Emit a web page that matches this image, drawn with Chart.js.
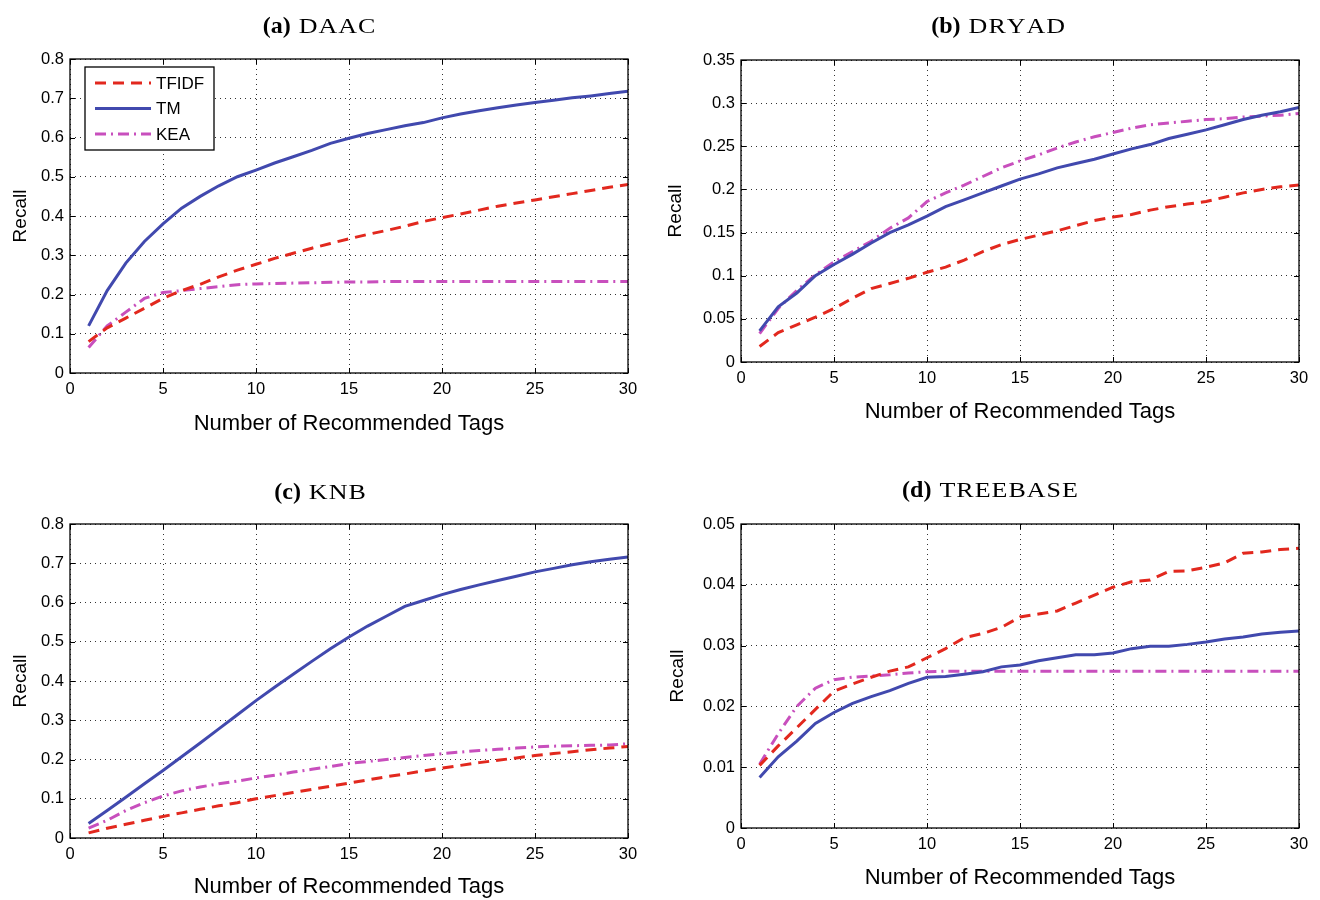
<!DOCTYPE html>
<html>
<head>
<meta charset="utf-8">
<title>Recall vs number of recommended tags</title>
<script src="https://cdn.jsdelivr.net/npm/chart.js@4.4.1/dist/chart.umd.min.js"></script>
<style>
  html, body { margin: 0; padding: 0; background: #fff; }
  #wrap { position: relative; width: 1320px; height: 900px; overflow: hidden; }
  #wrap canvas { position: absolute; }
</style>
</head>
<body>
<div id="wrap">
  <canvas id="chartA" width="660" height="455" style="left:0;top:0"></canvas>
  <canvas id="chartB" width="660" height="455" style="left:660px;top:0"></canvas>
  <canvas id="chartC" width="660" height="445" style="left:0;top:455px"></canvas>
  <canvas id="chartD" width="660" height="445" style="left:660px;top:455px"></canvas>
</div>
<script>
// x values: number of recommended tags
const tagCounts = [1, 2, 3, 4, 5, 6, 7, 8, 9, 10, 11, 12, 13, 14, 15,
                   16, 17, 18, 19, 20, 21, 22, 23, 24, 25, 26, 27, 28, 29, 30];
const methodNames = ['TFIDF', 'TM', 'KEA'];

// (a) DAAC
const daacTfidf = [0.080, 0.115, 0.140, 0.165, 0.190, 0.210, 0.226, 0.245, 0.262, 0.277, 0.292, 0.305, 0.318, 0.330, 0.342,
                   0.353, 0.363, 0.374, 0.386, 0.396, 0.405, 0.415, 0.425, 0.433, 0.441, 0.449, 0.457, 0.465, 0.473, 0.480];
const daacTm    = [0.120, 0.210, 0.280, 0.335, 0.380, 0.420, 0.450, 0.477, 0.500, 0.517, 0.535, 0.551, 0.567, 0.585, 0.598,
                   0.610, 0.620, 0.630, 0.638, 0.650, 0.660, 0.668, 0.676, 0.683, 0.689, 0.695, 0.701, 0.706, 0.712, 0.718];
const daacKea   = [0.065, 0.120, 0.155, 0.190, 0.205, 0.210, 0.215, 0.220, 0.225, 0.227, 0.228, 0.229, 0.230, 0.231, 0.232,
                   0.232, 0.233, 0.233, 0.233, 0.233, 0.233, 0.233, 0.233, 0.233, 0.233, 0.233, 0.233, 0.233, 0.233, 0.233];

// (b) DRYAD
const dryadTfidf = [0.018, 0.034, 0.043, 0.052, 0.062, 0.074, 0.085, 0.091, 0.097, 0.104, 0.110, 0.118, 0.128, 0.136, 0.142,
                    0.147, 0.152, 0.158, 0.164, 0.168, 0.171, 0.176, 0.180, 0.183, 0.186, 0.191, 0.196, 0.200, 0.203, 0.205];
const dryadTm    = [0.036, 0.064, 0.080, 0.100, 0.113, 0.125, 0.138, 0.150, 0.159, 0.169, 0.180, 0.188, 0.196, 0.204, 0.212,
                    0.218, 0.225, 0.230, 0.235, 0.241, 0.247, 0.252, 0.259, 0.264, 0.269, 0.275, 0.281, 0.286, 0.290, 0.295];
const dryadKea   = [0.033, 0.062, 0.083, 0.101, 0.116, 0.128, 0.140, 0.155, 0.167, 0.186, 0.196, 0.205, 0.215, 0.225, 0.233,
                    0.240, 0.248, 0.255, 0.261, 0.266, 0.271, 0.275, 0.277, 0.279, 0.281, 0.282, 0.284, 0.285, 0.286, 0.288];

// (c) KNB
const knbTfidf = [0.013, 0.025, 0.035, 0.045, 0.055, 0.064, 0.073, 0.082, 0.090, 0.100, 0.108, 0.116, 0.124, 0.132, 0.140,
                  0.148, 0.156, 0.163, 0.171, 0.178, 0.185, 0.192, 0.198, 0.204, 0.210, 0.215, 0.220, 0.225, 0.229, 0.233];
const knbTm    = [0.037, 0.070, 0.104, 0.138, 0.172, 0.207, 0.242, 0.278, 0.314, 0.350, 0.384, 0.417, 0.450, 0.482, 0.512,
                  0.540, 0.565, 0.590, 0.605, 0.620, 0.633, 0.645, 0.656, 0.667, 0.678, 0.687, 0.696, 0.704, 0.710, 0.716];
const knbKea   = [0.025, 0.045, 0.070, 0.090, 0.107, 0.120, 0.130, 0.138, 0.145, 0.153, 0.160, 0.168, 0.175, 0.182, 0.190,
                  0.195, 0.200, 0.205, 0.210, 0.215, 0.219, 0.223, 0.226, 0.229, 0.232, 0.234, 0.235, 0.236, 0.237, 0.240];

// (d) TREEBASE
const treebaseTfidf = [0.0103, 0.0135, 0.0165, 0.0195, 0.0225, 0.0237, 0.0248, 0.0258, 0.0265, 0.0280, 0.0295, 0.0313, 0.0320, 0.0330, 0.0347,
                       0.0352, 0.0357, 0.0370, 0.0383, 0.0396, 0.0405, 0.0408, 0.0422, 0.0423, 0.0429, 0.0436, 0.0452, 0.0454, 0.0458, 0.0460];
const treebaseTm    = [0.0083, 0.0117, 0.0143, 0.0172, 0.0190, 0.0205, 0.0216, 0.0226, 0.0238, 0.0248, 0.0249, 0.0253, 0.0257, 0.0265, 0.0268,
                       0.0275, 0.0280, 0.0285, 0.0285, 0.0288, 0.0295, 0.0299, 0.0299, 0.0302, 0.0306, 0.0311, 0.0314, 0.0319, 0.0322, 0.0324];
const treebaseKea   = [0.0105, 0.0155, 0.0200, 0.0230, 0.0244, 0.0248, 0.0250, 0.0252, 0.0255, 0.0257, 0.0258, 0.0258, 0.0258, 0.0258, 0.0258,
                       0.0258, 0.0258, 0.0258, 0.0258, 0.0258, 0.0258, 0.0258, 0.0258, 0.0258, 0.0258, 0.0258, 0.0258, 0.0258, 0.0258, 0.0258];

const SANS = '"Liberation Sans", Arial, Helvetica, sans-serif';
const SERIF = '"Liberation Serif", "Times New Roman", serif';

// line styles per method (MATLAB-ish)
const styles = {
    TFIDF: { color: '#e2281e', dash: [11, 7] },
    TM:    { color: '#4149ae', dash: [] },
    KEA:   { color: '#c84fbd', dash: [11, 5, 2, 5] }
};

// draws the axes box, inward ticks, subplot title and (optionally) the legend
const panelDecor = {
    id: 'panelDecor',
    afterDraw(chart, args, opts) {
        const { ctx, chartArea: a, scales } = chart;
        ctx.save();

        // box + inward tick marks
        ctx.strokeStyle = '#000';
        ctx.lineWidth = 1.3;
        ctx.strokeRect(a.left, a.top, a.right - a.left, a.bottom - a.top);
        ctx.lineWidth = 1;
        ctx.beginPath();
        scales.x.ticks.forEach(t => {
            const px = Math.round(scales.x.getPixelForValue(t.value)) + 0.5;
            ctx.moveTo(px, a.bottom); ctx.lineTo(px, a.bottom - 5);
            ctx.moveTo(px, a.top); ctx.lineTo(px, a.top + 5);
        });
        scales.y.ticks.forEach(t => {
            const py = Math.round(scales.y.getPixelForValue(t.value)) + 0.5;
            ctx.moveTo(a.left, py); ctx.lineTo(a.left + 5, py);
            ctx.moveTo(a.right, py); ctx.lineTo(a.right - 5, py);
        });
        ctx.stroke();

        // title: bold "(x)" + wide caps dataset name (LaTeX small caps look)
        const [tag, name] = opts.title;
        const stretch = 1.3, spacing = 1, gap = 8;
        ctx.fillStyle = '#000';
        ctx.textBaseline = 'alphabetic';
        ctx.textAlign = 'left';
        ctx.font = 'bold 24px ' + SERIF;
        const w1 = ctx.measureText(tag).width;
        ctx.font = '20px ' + SERIF;
        const w2 = ctx.measureText(name).width * stretch + spacing * (name.length - 1);
        const x0 = opts.titleX - (w1 + gap + w2) / 2;
        ctx.font = 'bold 24px ' + SERIF;
        ctx.fillText(tag, x0, opts.titleY);
        ctx.font = '20px ' + SERIF;
        let cx = x0 + w1 + gap;
        for (const ch of name) {
            ctx.save();
            ctx.translate(cx, opts.titleY);
            ctx.scale(stretch, 1);
            ctx.fillText(ch, 0, 0);
            ctx.restore();
            cx += ctx.measureText(ch).width * stretch + spacing;
        }

        // legend box
        if (opts.legend) {
            const lg = opts.legend;
            ctx.fillStyle = '#fff';
            ctx.fillRect(lg.x, lg.y, lg.w, lg.h);
            ctx.strokeStyle = '#000';
            ctx.lineWidth = 1.3;
            ctx.strokeRect(lg.x, lg.y, lg.w, lg.h);
            ctx.font = '17px ' + SANS;
            ctx.textBaseline = 'middle';
            chart.data.datasets.forEach((ds, i) => {
                const yy = lg.y + 16 + i * 25.5;
                ctx.strokeStyle = ds.borderColor;
                ctx.lineWidth = ds.borderWidth;
                ctx.setLineDash(ds.borderDash);
                ctx.beginPath();
                ctx.moveTo(lg.x + 10, yy);
                ctx.lineTo(lg.x + 66, yy);
                ctx.stroke();
                ctx.setLineDash([]);
                ctx.fillStyle = '#000';
                ctx.fillText(ds.label, lg.x + 71, yy + 1);
            });
        }
        ctx.restore();
    }
};

function makePanel(id, p) {
    const datasets = methodNames.map((m, i) => ({
        label: m,
        data: p.series[i].map((v, k) => ({ x: tagCounts[k], y: v })),
        borderColor: styles[m].color,
        borderDash: styles[m].dash,
        borderWidth: 3,
        pointRadius: 0,
        tension: 0,
        fill: false
    }));

    return new Chart(document.getElementById(id), {
        type: 'line',
        data: { datasets },
        plugins: [panelDecor],
        options: {
            responsive: false,
            animation: false,
            layout: { padding: { left: 0, top: p.padTop, right: p.padRight, bottom: 0 } },
            plugins: {
                legend: { display: false },
                tooltip: { enabled: false },
                panelDecor: { title: p.title, titleX: p.titleX, titleY: p.titleY, legend: p.legend || null }
            },
            scales: {
                x: {
                    type: 'linear',
                    min: 0, max: 30,
                    afterFit: s => { s.height = p.xHeight; },
                    ticks: { stepSize: 5, color: '#000', padding: 7, maxRotation: 0,
                             font: { family: SANS, size: 16.5 } },
                    grid: { color: '#333', lineWidth: 1, drawTicks: false },
                    border: { display: false, dash: [1, 4] },
                    title: { display: true, text: 'Number of Recommended Tags', color: '#000',
                             font: { family: SANS, size: 22 }, padding: { top: 0, bottom: p.xTitlePad } }
                },
                y: {
                    min: 0, max: p.yMax,
                    afterFit: s => { s.width = p.yWidth; },
                    ticks: { stepSize: p.yStep, color: '#000', padding: 6,
                             font: { family: SANS, size: 16.5 },
                             callback: v => String(+v.toFixed(4)) },
                    grid: { color: '#333', lineWidth: 1, drawTicks: false },
                    border: { display: false, dash: [1, 4] },
                    title: { display: true, text: 'Recall', color: '#000',
                             font: { family: SANS, size: 19 }, padding: { top: p.yTitlePad, bottom: 0 } }
                }
            }
        }
    });
}

const charts = {};

charts.daac = makePanel('chartA', {
    title: ['(a)', 'DAAC'], titleX: 319, titleY: 33,
    series: [daacTfidf, daacTm, daacKea],
    yMax: 0.8, yStep: 0.1,
    padTop: 59, padRight: 32, yWidth: 70, xHeight: 82, yTitlePad: 9, xTitlePad: 18,
    legend: { x: 85, y: 67, w: 129, h: 83 }
});

charts.dryad = makePanel('chartB', {
    title: ['(b)', 'DRYAD'], titleX: 336, titleY: 33,
    series: [dryadTfidf, dryadTm, dryadKea],
    yMax: 0.35, yStep: 0.05,
    padTop: 60, padRight: 21, yWidth: 81, xHeight: 93, yTitlePad: 4, xTitlePad: 30
});

charts.knb = makePanel('chartC', {
    title: ['(c)', 'KNB'], titleX: 320, titleY: 44,
    series: [knbTfidf, knbTm, knbKea],
    yMax: 0.8, yStep: 0.1,
    padTop: 69, padRight: 32, yWidth: 70, xHeight: 62, yTitlePad: 9, xTitlePad: 0
});

charts.treebase = makePanel('chartD', {
    title: ['(d)', 'TREEBASE'], titleX: 330, titleY: 42,
    series: [treebaseTfidf, treebaseTm, treebaseKea],
    yMax: 0.05, yStep: 0.01,
    padTop: 69, padRight: 21, yWidth: 81, xHeight: 72, yTitlePad: 6, xTitlePad: 9
});
</script>
</body>
</html>
